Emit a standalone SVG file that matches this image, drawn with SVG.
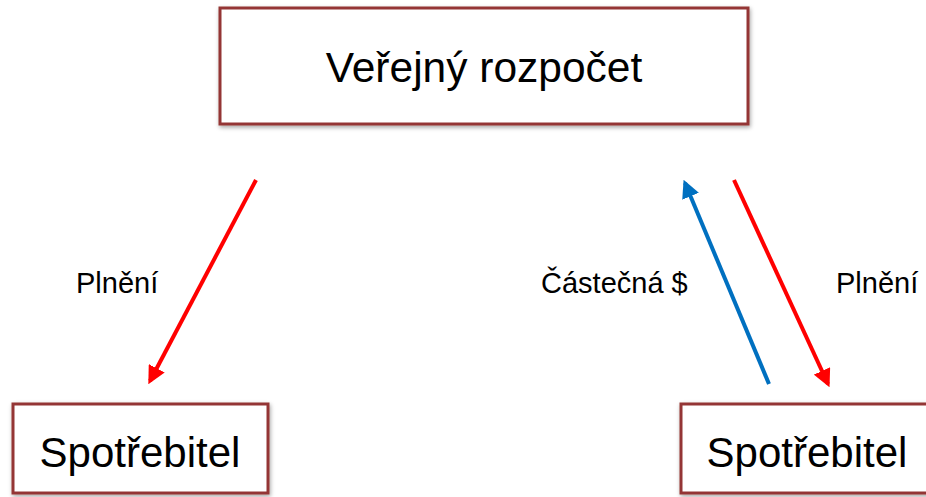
<svg xmlns="http://www.w3.org/2000/svg" width="926" height="497" viewBox="0 0 926 497">
<defs>
<style>
.box{fill:#fff;stroke:#943634;stroke-width:3;filter:url(#sh)}
.t{font-family:"Liberation Sans",Arial,sans-serif;fill:#000}
.big{font-size:42.5px;text-anchor:middle}
.mid{font-size:42px;text-anchor:middle}
.lab{font-size:29px}
.r{stroke:#ff0000;stroke-width:4;fill:none}
.b{stroke:#0070c0;stroke-width:4;fill:none}
</style>
<filter id="sh" x="-10%" y="-10%" width="120%" height="130%">
<feDropShadow dx="1" dy="2" stdDeviation="2" flood-color="#000" flood-opacity="0.35"/>
</filter>
<marker id="ar" viewBox="0 0 10 10" refX="8" refY="5" markerWidth="4.5" markerHeight="4.5" orient="auto" markerUnits="strokeWidth">
<path d="M0,0 L10,5 L0,10 z" fill="#ff0000"/>
</marker>
<marker id="ab" viewBox="0 0 10 10" refX="8" refY="5" markerWidth="4.5" markerHeight="4.5" orient="auto" markerUnits="strokeWidth">
<path d="M0,0 L10,5 L0,10 z" fill="#0070c0"/>
</marker>
</defs>
<g id="budget">
<rect class="box" x="220" y="8" width="528" height="116"/>
<text class="t big" x="484" y="82">Veřejný rozpočet</text>
</g>
<g id="consumer-left">
<rect class="box" x="13" y="404" width="255" height="89"/>
<text class="t mid" x="140" y="467">Spotřebitel</text>
</g>
<g id="consumer-right">
<rect class="box" x="681" y="404" width="260" height="89"/>
<text class="t mid" x="807" y="467">Spotřebitel</text>
</g>
<g id="connectors">
<line class="r" x1="256" y1="180" x2="150" y2="381" marker-end="url(#ar)"/>
<line class="b" x1="769" y1="384" x2="685" y2="183" marker-end="url(#ab)"/>
<line class="r" x1="734" y1="180" x2="828" y2="384" marker-end="url(#ar)"/>
<text class="t lab" x="76" y="293">Plnění</text>
<text class="t lab" x="541" y="293">Částečná $</text>
<text class="t lab" x="836" y="293">Plnění</text>
</g>
</svg>
